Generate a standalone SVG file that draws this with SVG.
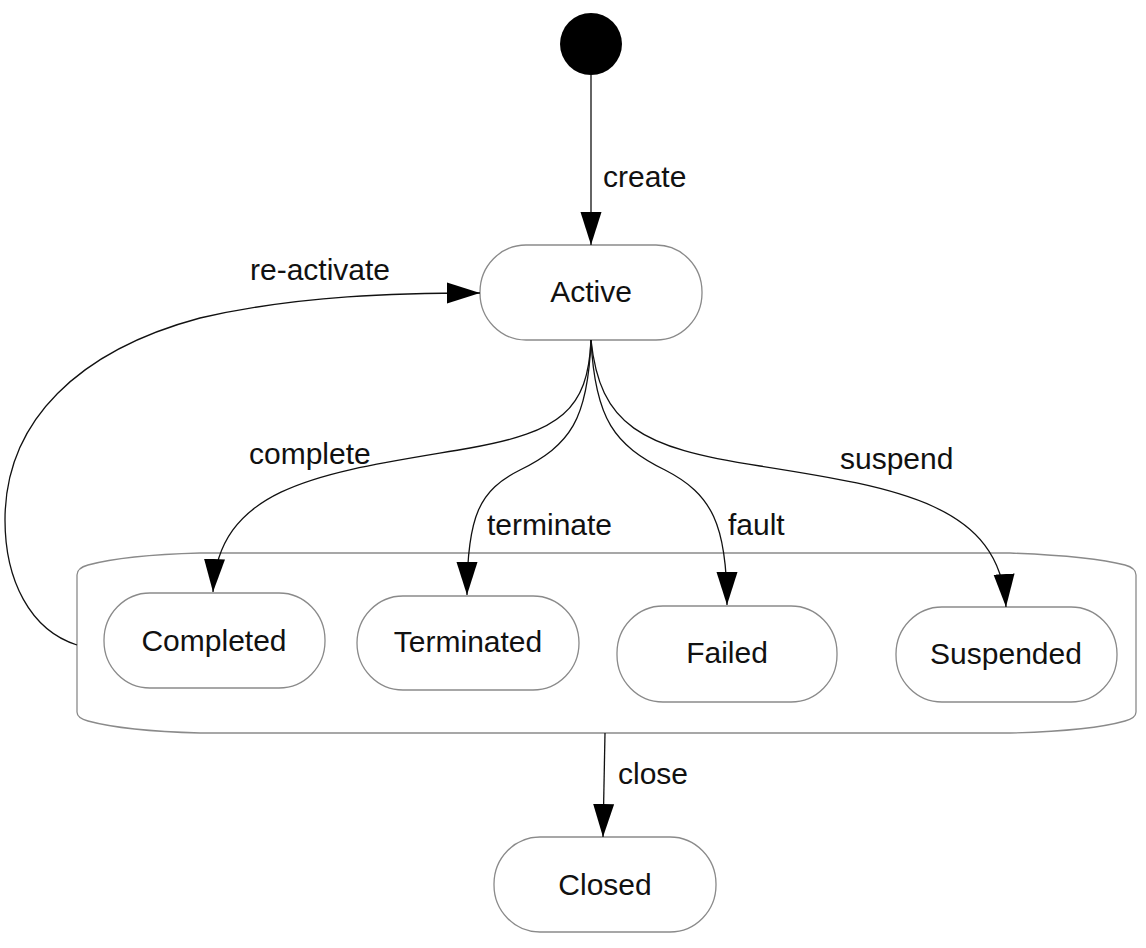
<svg xmlns="http://www.w3.org/2000/svg" width="1146" height="948" viewBox="0 0 1146 948">
<style>
.node{fill:#fff;stroke:#8a8a8a;stroke-width:1.3}
.lbl{font-family:"Liberation Sans",Arial,sans-serif;font-size:30px;fill:#111}
.ctr{text-anchor:middle}
.edge{fill:none;stroke:#111;stroke-width:1.3}
</style>
<defs>
<marker id="arr" markerUnits="userSpaceOnUse" markerWidth="34" markerHeight="22" refX="33" refY="10.5" orient="auto" viewBox="0 0 34 21">
<path d="M0,0 L33,10.5 L0,21 Z" fill="#000"/>
</marker>
</defs>
<rect width="1146" height="948" fill="#fff"/>
<g id="initial"><circle cx="591" cy="44" r="31" fill="#000"/></g>
<g id="group">
<path class="node" d="M200,553 L1010,553 Q1090,556 1125,565 Q1136,568 1136,575 L1136,712 Q1136,718 1125,721 Q1090,731 1010,733 L200,733 Q125,731 88,721 Q77,718 77,712 L77,575 Q77,568 88,565 Q125,555 200,553 Z"/>
</g>
<g id="active"><rect class="node" x="480" y="245" width="222" height="95" rx="46" ry="47"/><text class="lbl ctr" x="591" y="302">Active</text></g>
<g id="completed"><rect class="node" x="104" y="593" width="221" height="95" rx="46" ry="47"/><text class="lbl ctr" x="214" y="651">Completed</text></g>
<g id="terminated"><rect class="node" x="357" y="596" width="222" height="94" rx="46" ry="47"/><text class="lbl ctr" x="468" y="652">Terminated</text></g>
<g id="failed"><rect class="node" x="617" y="606" width="220" height="96" rx="46" ry="47"/><text class="lbl ctr" x="727" y="663">Failed</text></g>
<g id="suspended"><rect class="node" x="896" y="607" width="221" height="95" rx="46" ry="47"/><text class="lbl ctr" x="1006" y="664">Suspended</text></g>
<g id="closed"><rect class="node" x="494" y="837" width="222" height="95" rx="46" ry="47"/><text class="lbl ctr" x="605" y="895">Closed</text></g>
<g id="connectors">
<path class="edge" d="M591,75 L591,245" marker-end="url(#arr)"/>
<path class="edge" d="M591,340 C588,410 560,432 470,448 C330,472 218,482 213,592" marker-end="url(#arr)"/>
<path class="edge" d="M591,340 C588,420 570,445 520,470 C480,490 467,515 467,595" marker-end="url(#arr)"/>
<path class="edge" d="M591,340 C595,420 615,445 665,470 C712,494 727,525 727,605" marker-end="url(#arr)"/>
<path class="edge" d="M591,340 C600,425 640,448 760,466 C900,488 1000,505 1006,607" marker-end="url(#arr)"/>
<path class="edge" d="M77,645 C30,630 5,580 5,520 C5,420 80,350 200,318 C300,295 400,293 480,293" marker-end="url(#arr)"/>
<path class="edge" d="M605,733 L603,837" marker-end="url(#arr)"/>
<text class="lbl" x="603" y="187">create</text>
<text class="lbl" x="250" y="280">re-activate</text>
<text class="lbl" x="249" y="464">complete</text>
<text class="lbl" x="487" y="535">terminate</text>
<text class="lbl" x="728" y="535">fault</text>
<text class="lbl" x="840" y="469">suspend</text>
<text class="lbl" x="618" y="784">close</text>
</g>
</svg>
